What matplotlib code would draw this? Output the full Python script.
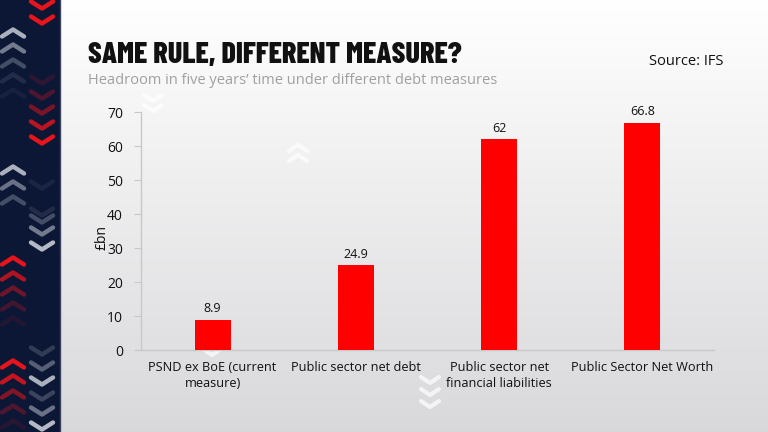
import matplotlib
matplotlib.use("Agg")
import matplotlib.pyplot as plt
import numpy as np
from matplotlib.lines import Line2D

categories = ["PSND ex BoE (current\nmeasure)", "Public sector net debt",
              "Public sector net\nfinancial liabilities", "Public Sector Net Worth"]
values = [8.9, 24.9, 62, 66.8]
value_labels = ["8.9", "24.9", "62", "66.8"]
yticks = [0, 10, 20, 30, 40, 50, 60, 70]

title = "SAME RULE, DIFFERENT MEASURE?"
subtitle = "Headroom in five years\u2019 time under different debt measures"
source = "Source: IFS"

BODY = ["Open Sans", "DejaVu Sans"]
TITLE = ["Barlow Condensed", "DejaVu Sans"]

W, H = 768, 432
fig = plt.figure(figsize=(W / 100, H / 100), dpi=100)

# background gradient
bg = fig.add_axes([0, 0, 1, 1], zorder=-10)
grad = np.linspace(1.0, 0.0, 256).reshape(-1, 1)
top = np.array([1.0, 1.0, 1.0])
bot = np.array([0.85, 0.85, 0.86])
img = bot + (top - bot) * grad[..., None]
img = img.reshape(256, 1, 3)
bg.imshow(img, aspect="auto", extent=[0, W, H, 0])
bg.set_xlim(0, W)
bg.set_ylim(H, 0)
bg.axis("off")

# left navy strip
bg.add_patch(plt.Rectangle((0, 0), 59, H, color="#0c1736", zorder=1))
bg.add_line(Line2D([59.5, 59.5], [0, H], color="#3a4460", lw=1, zorder=1))


def chevron(ax, cx, cy, up, color, alpha, w=11, h=7, lw=3.2):
    if up:
        xs = [cx - w, cx, cx + w]
        ys = [cy + h / 2, cy - h / 2, cy + h / 2]
    else:
        xs = [cx - w, cx, cx + w]
        ys = [cy - h / 2, cy + h / 2, cy - h / 2]
    ax.add_line(Line2D(xs, ys, color=color, alpha=alpha, lw=lw,
                       solid_capstyle="round", solid_joinstyle="round", zorder=2))


RED = "#e8141c"
GREY = "#c8ccd6"
# column B (x=42): down chevrons
for y, c, a in [(5, RED, 1), (20, RED, 1),
                (80, RED, 0.15), (95, RED, 0.3), (110, RED, 0.5), (125, RED, 0.8), (140, RED, 1),
                (185, GREY, 0.08), (212, GREY, 0.12), (219, GREY, 0.3), (231, GREY, 0.55), (246, GREY, 0.9),
                (351, GREY, 0.2), (366, GREY, 0.4), (381, GREY, 0.85), (396, GREY, 0.25),
                (411, GREY, 0.5), (426, GREY, 0.9)]:
    chevron(bg, 42, y, False, c, a)
# column A (x=13): up chevrons
for y, c, a in [(33, GREY, 0.85), (48, GREY, 0.55), (63, GREY, 0.3), (78, GREY, 0.12), (93, GREY, 0.06),
                (170, GREY, 0.85), (185, GREY, 0.5), (200, GREY, 0.3),
                (261, RED, 1), (276, RED, 0.75), (291, RED, 0.45), (306, RED, 0.25), (321, RED, 0.1),
                (364, RED, 1), (379, RED, 0.85), (394, RED, 0.55), (409, RED, 0.3), (424, RED, 0.12)]:
    chevron(bg, 13, y, True, c, a)

# faint white chevrons in the chart area
for (cx, cy, up) in [(153, 98, False), (153, 108, False), (298, 148, True), (298, 158, True),
                     (212, 352, False), (430, 380, False), (430, 392, False), (430, 404, False)]:
    chevron(bg, cx, cy, up, "white", 0.7, w=9, h=6, lw=3)

# texts
fig.text(88 / W, 1 - 63 / H, title, family=TITLE, weight=800, fontsize=21.8,
         color="#111111", va="baseline", ha="left")
fig.text(88 / W, 1 - 84 / H, subtitle, family=BODY, fontsize=10.5, color="#a0a0a0",
         va="baseline", ha="left")
fig.text(723 / W, 1 - 65 / H, source, family=BODY, fontsize=10.5, color="#111111",
         va="baseline", ha="right")

# main axes
x0, x1, ytop, ybot = 141, 714, 112, 350
ax = fig.add_axes([x0 / W, 1 - ybot / H, (x1 - x0) / W, (ybot - ytop) / H])
ax.patch.set_alpha(0)
xpos = np.arange(len(values))
bars = ax.bar(xpos, values, width=0.25, color="#ff0000", zorder=3)
for xi, v, lab in zip(xpos, values, value_labels):
    ax.text(xi, v + 1.3, lab, ha="center", va="bottom", family=BODY, fontsize=9, color="#111111")
ax.set_xlim(-0.5, 3.5)
ax.set_ylim(0, 70)
ax.set_yticks(yticks)
ax.set_yticklabels([str(t) for t in yticks], family=BODY, fontsize=10, color="#111111")
ax.set_xticks(xpos)
ax.set_xticklabels(categories, family=BODY, fontsize=9.2, color="#111111", linespacing=1.25)
ax.tick_params(axis="x", length=0, pad=8)
ax.tick_params(axis="y", length=5, color="#c8c8c8", pad=8)
for s in ["top", "right"]:
    ax.spines[s].set_visible(False)
for s in ["left", "bottom"]:
    ax.spines[s].set_color("#c8c8c8")
    ax.spines[s].set_linewidth(1)
ax.set_ylabel("\u00a3bn", family=BODY, fontsize=10, color="#111111")
ax.yaxis.set_label_coords((109 - x0) / (x1 - x0), (ybot - 237) / (ybot - ytop))

fig.savefig("out.png", dpi=100)
